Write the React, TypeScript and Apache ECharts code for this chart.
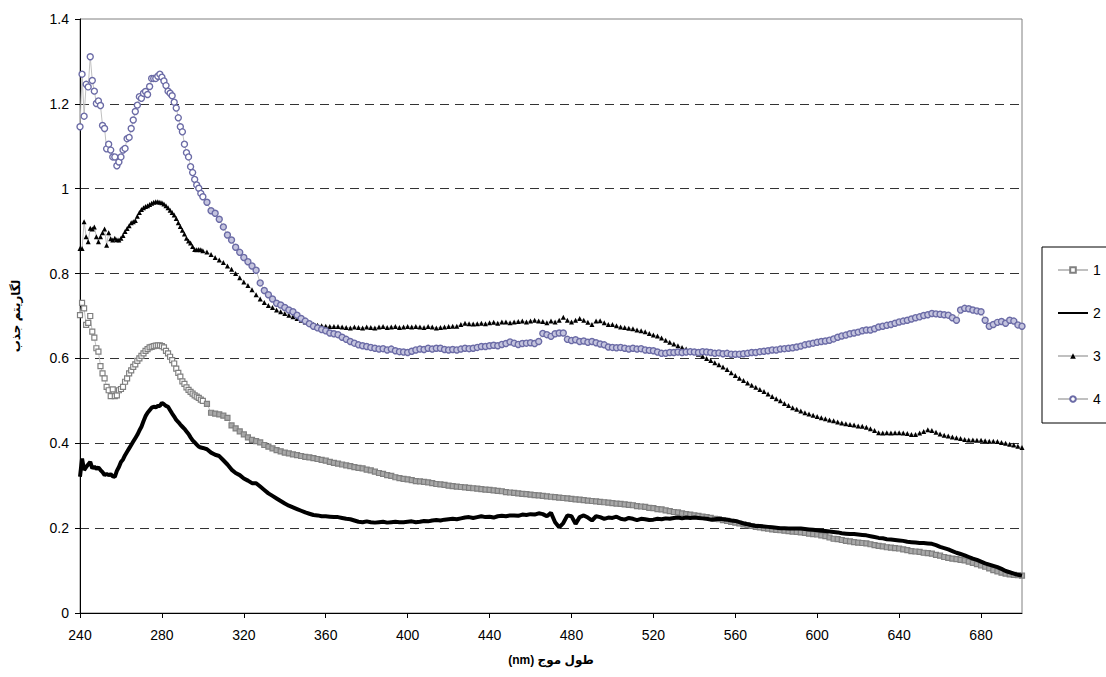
import React, { useEffect, useRef } from "react";
import * as echarts from "echarts";

// Sampling grid (nm): 1 nm steps 240-300, then 2 nm steps 302-700
const wavelengths: number[] = [];
for (let w = 240; w <= 300; w++) wavelengths.push(w);
for (let w = 302; w <= 700; w += 2) wavelengths.push(w);

const seriesNames = ["1", "2", "3", "4"];

const series1 = [
  0.702,0.731,0.718,0.679,0.684,0.700,0.663,0.649,0.624,0.616,
  0.582,0.565,0.553,0.533,0.525,0.511,0.527,0.511,0.513,0.525,
  0.528,0.533,0.545,0.553,0.565,0.572,0.580,0.586,0.594,0.600,
  0.606,0.612,0.618,0.622,0.626,0.627,0.629,0.630,0.631,0.631,
  0.629,0.626,0.618,0.612,0.604,0.596,0.588,0.576,0.566,0.557,
  0.546,0.540,0.532,0.526,0.521,0.517,0.513,0.510,0.507,0.503,
  0.500,
  0.493,0.472,0.470,0.468,0.465,0.460,0.442,0.435,0.428,0.421,
  0.414,0.408,0.405,0.402,0.396,0.392,0.388,0.384,0.381,0.378,
  0.376,0.374,0.372,0.370,0.368,0.367,0.365,0.363,0.361,0.359,
  0.356,0.354,0.352,0.350,0.348,0.346,0.344,0.342,0.341,0.338,
  0.336,0.333,0.330,0.328,0.325,0.323,0.320,0.318,0.316,0.315,
  0.313,0.311,0.310,0.309,0.308,0.306,0.304,0.303,0.302,0.300,
  0.299,0.298,0.297,0.296,0.295,0.294,0.293,0.292,0.291,0.290,
  0.289,0.288,0.287,0.285,0.284,0.283,0.282,0.281,0.280,0.279,
  0.278,0.277,0.276,0.275,0.274,0.273,0.272,0.271,0.270,0.269,
  0.268,0.267,0.266,0.265,0.264,0.263,0.262,0.261,0.260,0.259,
  0.258,0.257,0.256,0.255,0.254,0.252,0.251,0.250,0.248,0.247,
  0.245,0.244,0.242,0.240,0.238,0.237,0.235,0.233,0.232,0.230,
  0.229,0.227,0.226,0.224,0.222,0.221,0.219,0.217,0.215,0.213,
  0.211,0.209,0.207,0.205,0.203,0.202,0.200,0.199,0.197,0.196,
  0.195,0.194,0.193,0.192,0.191,0.190,0.189,0.187,0.186,0.185,
  0.183,0.181,0.178,0.175,0.174,0.172,0.170,0.169,0.167,0.166,
  0.165,0.164,0.162,0.160,0.158,0.157,0.155,0.154,0.153,0.152,
  0.150,0.148,0.146,0.145,0.144,0.142,0.141,0.140,0.137,0.135,
  0.132,0.130,0.128,0.127,0.125,0.124,0.121,0.118,0.115,0.112,
  0.109,0.105,0.101,0.098,0.095,0.093,0.091,0.090,0.089,0.088,
];

const series2 = [
  0.321,0.364,0.337,0.344,0.350,0.356,0.341,0.345,0.340,0.343,
  0.337,0.332,0.325,0.328,0.325,0.327,0.322,0.321,0.335,0.344,
  0.356,0.362,0.372,0.380,0.388,0.396,0.404,0.412,0.420,0.430,
  0.439,0.452,0.464,0.472,0.478,0.484,0.486,0.485,0.488,0.488,
  0.495,0.492,0.488,0.486,0.478,0.470,0.463,0.455,0.450,0.444,
  0.439,0.434,0.428,0.422,0.414,0.407,0.402,0.397,0.392,0.390,
  0.389,
  0.386,0.378,0.373,0.370,0.360,0.350,0.338,0.330,0.325,0.317,
  0.312,0.306,0.306,0.298,0.290,0.282,0.276,0.270,0.264,0.258,
  0.253,0.249,0.245,0.241,0.237,0.234,0.231,0.230,0.228,0.228,
  0.227,0.226,0.226,0.224,0.222,0.221,0.218,0.215,0.214,0.216,
  0.214,0.213,0.214,0.215,0.213,0.214,0.215,0.214,0.214,0.215,
  0.216,0.214,0.215,0.217,0.216,0.218,0.219,0.218,0.220,0.221,
  0.222,0.221,0.223,0.225,0.226,0.224,0.226,0.228,0.226,0.227,
  0.225,0.228,0.229,0.228,0.230,0.230,0.229,0.232,0.231,0.233,
  0.232,0.235,0.233,0.228,0.236,0.214,0.202,0.212,0.230,0.228,
  0.210,0.226,0.230,0.225,0.218,0.228,0.226,0.222,0.225,0.224,
  0.227,0.222,0.220,0.224,0.222,0.219,0.222,0.221,0.219,0.220,
  0.222,0.221,0.223,0.222,0.224,0.225,0.223,0.225,0.224,0.225,
  0.224,0.223,0.222,0.220,0.221,0.222,0.221,0.220,0.218,0.217,
  0.214,0.211,0.209,0.207,0.205,0.205,0.204,0.203,0.202,0.201,
  0.200,0.200,0.199,0.199,0.199,0.199,0.198,0.197,0.196,0.195,
  0.194,0.193,0.192,0.191,0.190,0.188,0.187,0.186,0.186,0.185,
  0.184,0.183,0.181,0.179,0.177,0.176,0.174,0.173,0.172,0.171,
  0.170,0.168,0.167,0.166,0.165,0.165,0.164,0.163,0.160,0.156,
  0.153,0.150,0.146,0.142,0.139,0.136,0.132,0.128,0.125,0.121,
  0.117,0.114,0.111,0.108,0.104,0.099,0.096,0.093,0.090,0.088,
];

const series3 = [
  0.859,0.859,0.922,0.887,0.875,0.907,0.905,0.910,0.887,0.875,
  0.887,0.896,0.905,0.867,0.896,0.882,0.879,0.883,0.880,0.879,
  0.883,0.890,0.899,0.906,0.913,0.920,0.922,0.925,0.935,0.944,
  0.951,0.955,0.958,0.960,0.963,0.966,0.968,0.969,0.969,0.968,
  0.967,0.964,0.960,0.955,0.949,0.944,0.938,0.930,0.920,0.911,
  0.902,0.893,0.883,0.877,0.872,0.864,0.857,0.856,0.857,0.856,
  0.854,
  0.851,0.845,0.838,0.832,0.826,0.818,0.810,0.800,0.790,0.780,
  0.772,0.762,0.750,0.740,0.732,0.725,0.720,0.714,0.710,0.706,
  0.702,0.698,0.694,0.690,0.686,0.683,0.680,0.678,0.677,0.676,
  0.675,0.675,0.675,0.674,0.673,0.672,0.674,0.673,0.672,0.674,
  0.673,0.672,0.674,0.675,0.673,0.674,0.675,0.673,0.674,0.675,
  0.674,0.675,0.674,0.673,0.675,0.674,0.672,0.673,0.674,0.675,
  0.676,0.676,0.680,0.683,0.682,0.681,0.682,0.683,0.682,0.684,
  0.685,0.683,0.686,0.686,0.684,0.686,0.687,0.688,0.686,0.688,
  0.690,0.688,0.687,0.684,0.688,0.686,0.690,0.697,0.690,0.686,
  0.690,0.694,0.690,0.685,0.680,0.688,0.689,0.684,0.680,0.680,
  0.677,0.674,0.673,0.671,0.670,0.667,0.665,0.663,0.659,0.655,
  0.653,0.648,0.643,0.638,0.634,0.630,0.626,0.622,0.619,0.614,
  0.610,0.605,0.600,0.595,0.590,0.585,0.580,0.574,0.566,0.560,
  0.553,0.548,0.542,0.537,0.532,0.527,0.522,0.516,0.510,0.505,
  0.500,0.494,0.489,0.484,0.480,0.476,0.472,0.469,0.466,0.463,
  0.460,0.458,0.455,0.453,0.450,0.448,0.446,0.444,0.443,0.441,
  0.440,0.438,0.434,0.430,0.425,0.424,0.425,0.424,0.425,0.425,
  0.424,0.423,0.421,0.421,0.424,0.428,0.432,0.430,0.426,0.422,
  0.419,0.417,0.415,0.413,0.411,0.409,0.408,0.408,0.407,0.407,
  0.406,0.405,0.405,0.404,0.402,0.400,0.398,0.396,0.393,0.390,
];

const series4 = [
  1.146,1.270,1.171,1.246,1.240,1.311,1.255,1.230,1.201,1.207,
  1.196,1.149,1.142,1.094,1.105,1.091,1.075,1.075,1.054,1.063,
  1.075,1.091,1.095,1.118,1.121,1.142,1.162,1.182,1.197,1.217,
  1.213,1.225,1.229,1.222,1.241,1.260,1.260,1.260,1.265,1.270,
  1.263,1.254,1.243,1.230,1.225,1.219,1.204,1.190,1.167,1.146,
  1.134,1.105,1.085,1.075,1.052,1.038,1.022,1.009,1.001,0.989,
  0.981,
  0.968,0.948,0.942,0.928,0.910,0.891,0.879,0.862,0.850,0.838,
  0.828,0.818,0.808,0.778,0.760,0.750,0.740,0.730,0.726,0.720,
  0.714,0.710,0.702,0.694,0.688,0.682,0.676,0.672,0.668,0.665,
  0.660,0.658,0.656,0.650,0.645,0.640,0.636,0.632,0.630,0.628,
  0.626,0.624,0.622,0.623,0.620,0.622,0.618,0.616,0.615,0.614,
  0.617,0.620,0.622,0.621,0.624,0.622,0.624,0.624,0.621,0.620,
  0.621,0.620,0.622,0.624,0.623,0.624,0.626,0.628,0.628,0.630,
  0.631,0.630,0.633,0.635,0.639,0.636,0.633,0.635,0.636,0.637,
  0.635,0.640,0.659,0.656,0.652,0.658,0.660,0.660,0.645,0.642,
  0.644,0.640,0.641,0.638,0.640,0.637,0.634,0.632,0.627,0.626,
  0.625,0.626,0.624,0.622,0.624,0.622,0.623,0.620,0.619,0.618,
  0.615,0.612,0.612,0.614,0.614,0.615,0.614,0.615,0.616,0.615,
  0.614,0.616,0.615,0.614,0.612,0.613,0.611,0.612,0.610,0.610,
  0.610,0.611,0.612,0.614,0.614,0.616,0.617,0.618,0.620,0.620,
  0.622,0.623,0.624,0.625,0.627,0.629,0.632,0.634,0.636,0.638,
  0.640,0.641,0.643,0.646,0.650,0.653,0.655,0.658,0.660,0.662,
  0.665,0.667,0.667,0.670,0.674,0.676,0.678,0.680,0.683,0.686,
  0.688,0.690,0.693,0.696,0.698,0.701,0.703,0.706,0.705,0.704,
  0.703,0.702,0.696,0.690,0.714,0.718,0.717,0.714,0.712,0.710,
  0.690,0.676,0.680,0.685,0.687,0.683,0.690,0.688,0.679,0.676,
];

const xTitle = "(nm) طول موج";
const yTitle = "لگاریتم جذب";

const FONT = "Arial, 'Liberation Sans', 'DejaVu Sans', sans-serif";

// Points in the 2 nm region are drawn with a tinted fill to mimic the dense marker band
const pairs = (vals: number[], denseFill?: string) =>
  wavelengths.map((w, i) =>
    denseFill && w > 300
      ? { value: [w, vals[i]], itemStyle: { color: denseFill } }
      : { value: [w, vals[i]] }
  );

export default function App() {
  const ref = useRef<HTMLDivElement>(null);
  useEffect(() => {
    document.body.style.margin = "0";
    if (!ref.current) return;
    const chart = echarts.init(ref.current, undefined, { renderer: "svg" });
    chart.setOption({
      animation: false,
      backgroundColor: "#ffffff",
      textStyle: { fontFamily: FONT },
      grid: {
        left: 80,
        right: 84,
        top: 19,
        bottom: 64,
        show: true,
        borderColor: "#808080",
        borderWidth: 1,
        backgroundColor: "transparent",
      },
      legend: {
        orient: "vertical",
        left: 1042,
        top: 247,
        data: seriesNames,
        itemWidth: 30,
        itemHeight: 7,
        itemGap: 29,
        padding: [16, 40, 17, 15],
        borderColor: "#000",
        borderWidth: 1,
        textStyle: { fontSize: 14, color: "#000", fontFamily: FONT },
        selectedMode: false,
      },
      xAxis: {
        type: "value",
        min: 240,
        max: 700,
        interval: 40,
        name: xTitle,
        nameLocation: "middle",
        nameGap: 41,
        nameTextStyle: { fontSize: 12, fontWeight: "bold", color: "#000", fontFamily: FONT },
        axisLine: { show: true, onZero: false, lineStyle: { color: "#000", width: 1 } },
        axisTick: { show: true, length: 5, lineStyle: { color: "#000" } },
        axisLabel: { fontSize: 14, color: "#000", margin: 15, showMaxLabel: false, fontFamily: FONT },
        splitLine: { show: false },
      },
      yAxis: {
        type: "value",
        min: 0,
        max: 1.4,
        interval: 0.2,
        name: yTitle,
        nameLocation: "middle",
        nameGap: 58,
        nameRotate: 90,
        nameTextStyle: { fontSize: 12, fontWeight: "bold", color: "#000", fontFamily: FONT },
        axisLine: { show: true, lineStyle: { color: "#000", width: 1 } },
        axisTick: { show: true, length: 5, lineStyle: { color: "#000" } },
        axisLabel: {
          fontSize: 14,
          color: "#000",
          margin: 11,
          fontFamily: FONT,
          formatter: (v: number) => String(Math.round(v * 10) / 10),
        },
        splitLine: {
          show: true,
          showMinLine: false,
          showMaxLine: false,
          lineStyle: { color: "#333", type: [9, 6], width: 1 },
        },
      },
      series: [
        {
          name: "1",
          type: "line",
          data: pairs(series1, "#a8a8a8"),
          symbol: "rect",
          symbolSize: 5,
          lineStyle: { color: "#c0c0c0", width: 1 },
          itemStyle: { color: "#ffffff", borderColor: "#808080", borderWidth: 1.2 },
          emphasis: { disabled: true },
          z: 2,
        },
        {
          name: "2",
          type: "line",
          data: pairs(series2),
          symbol: "none",
          lineStyle: { color: "#000", width: 4 },
          itemStyle: { color: "rgba(0,0,0,0)" },
          emphasis: { disabled: true },
          z: 3,
        },
        {
          name: "3",
          type: "line",
          data: pairs(series3),
          symbol: "triangle",
          symbolSize: 5,
          lineStyle: { color: "#c0c0c0", width: 1 },
          itemStyle: { color: "#000", borderWidth: 0 },
          emphasis: { disabled: true },
          z: 4,
        },
        {
          name: "4",
          type: "line",
          data: pairs(series4, "#c4c4de"),
          symbol: "circle",
          symbolSize: 6,
          lineStyle: { color: "#c0c0c0", width: 1 },
          itemStyle: { color: "#ffffff", borderColor: "#6b6ba6", borderWidth: 1.4 },
          emphasis: { disabled: true },
          z: 5,
        },
      ],
    });
    return () => chart.dispose();
  }, []);
  return <div ref={ref} style={{ width: 1106, height: 677 }} />;
}
